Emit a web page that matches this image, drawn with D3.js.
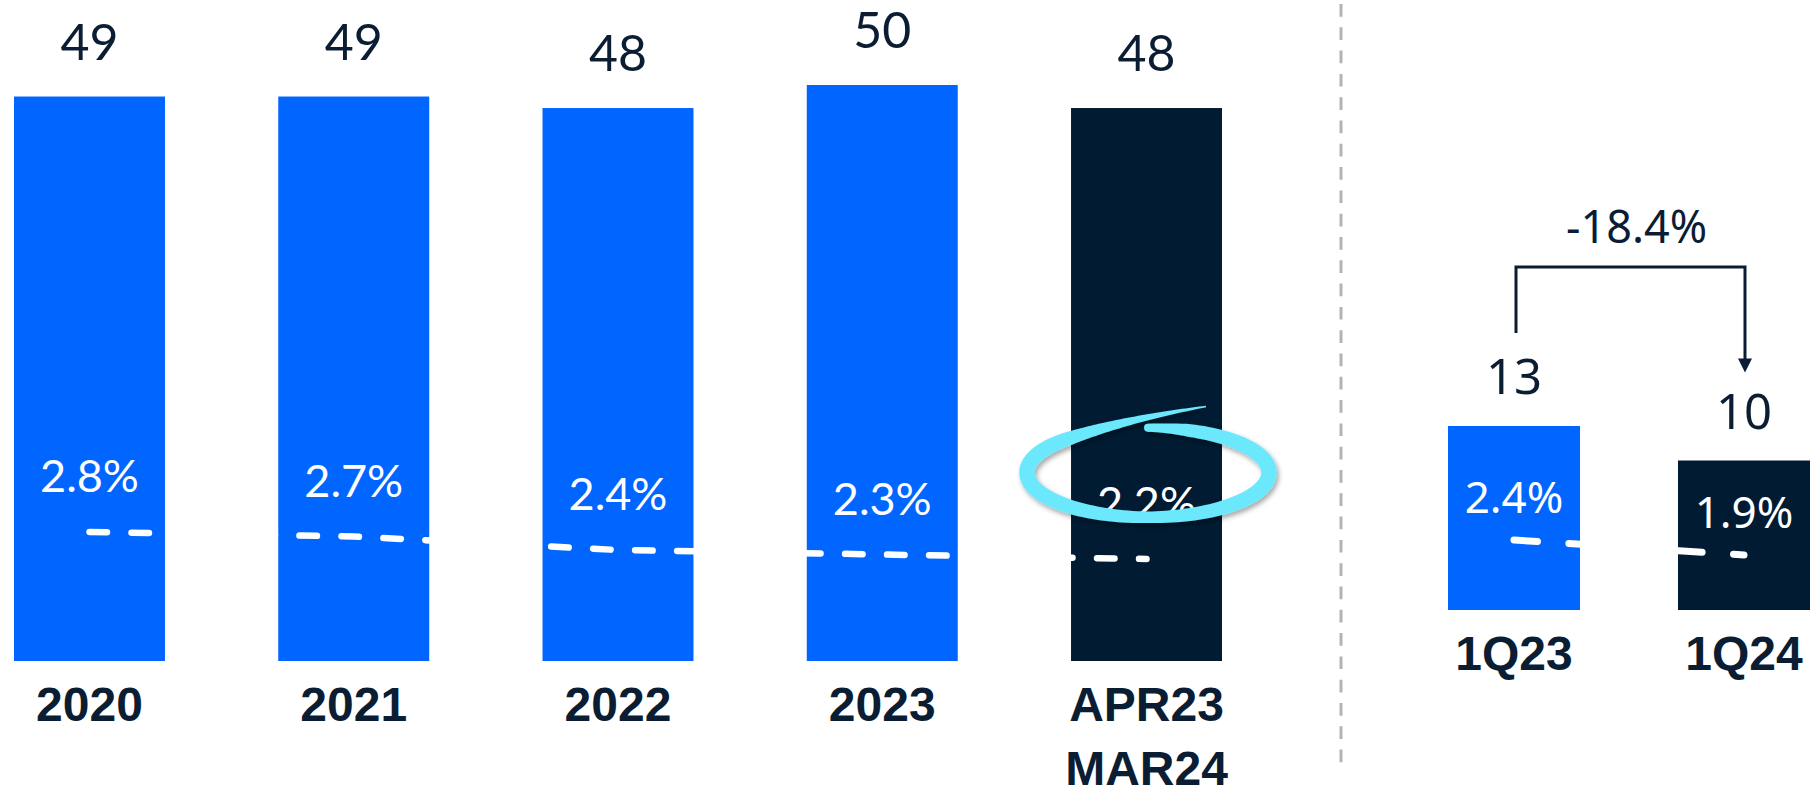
<!DOCTYPE html>
<html>
<head>
<meta charset="utf-8">
<script src="https://cdn.jsdelivr.net/npm/d3@7"></script>
<style>
  html, body { margin: 0; padding: 0; background: #ffffff; }
  svg { display: block; }
</style>
</head>
<body>
<svg id="chart" width="1812" height="796"></svg>
<script>
// Annual figures (left panel)
const periods = ["2020", "2021", "2022", "2023", "APR23\nMAR24"];
const periodValues = [49, 49, 48, 50, 48];
const periodShares = [2.8, 2.7, 2.4, 2.3, 2.2];

// Quarterly figures (right panel)
const quarters = ["1Q23", "1Q24"];
const quarterValues = [13, 10];
const quarterShares = [2.4, 1.9];
const quarterChange = "-18.4%";

const BLUE = "#0066ff";
const NAVY = "#001b32";
const INK = "#0b1d33";
const HALO = "#6ce8fc";

const svg = d3.select("#chart");
const pct = v => d3.format(".1f")(v) + "%";

const defs = svg.append("defs");
const shadow = defs.append("filter").attr("id", "halo-shadow")
  .attr("x", "-20%").attr("y", "-40%").attr("width", "140%").attr("height", "180%");
shadow.append("feDropShadow").attr("dx", 2).attr("dy", 3).attr("stdDeviation", 2.5)
  .attr("flood-color", "#000").attr("flood-opacity", 0.35);

// ---------- scales ----------
const xL = d3.scaleBand().domain(periods).range([14, 1222]).paddingInner(0.4287).paddingOuter(0);
const yL = d3.scaleLinear().domain([0, 50]).range([661, 85]);
const sL = d3.scaleLinear().domain([0, 4]).range([658, 478]);

const xR = d3.scaleBand().domain(quarters).range([1448, 1810]).paddingInner(0.426).paddingOuter(0);
const yR = d3.scaleLinear().domain([-3, 13]).range([610, 426]);
const sR = d3.scaleLinear().domain([0, 4]).range([612, 492]);

// ---------- generic panel ----------
function drawPanel(cfg) {
  const { cats, vals, shares, x, y, s, valueFont, valueSize, valueGap,
          shareFont, shareSize, shareGap, catY, lineGap, dash, dashWidth } = cfg;
  const g = svg.append("g");
  const bw = x.bandwidth();
  const base = y.range()[0];
  const last = cats.length - 1;
  const rows = cats.map((c, i) => ({ c, v: vals[i], s: shares[i], i }));

  g.selectAll("rect.bar").data(rows).join("rect")
    .attr("class", "bar")
    .attr("x", d => x(d.c))
    .attr("y", d => y(d.v))
    .attr("width", bw)
    .attr("height", d => base - y(d.v))
    .attr("fill", d => d.i === last ? NAVY : BLUE);

  g.selectAll("text.value").data(rows).join("text")
    .attr("class", "value")
    .attr("x", d => x(d.c) + bw / 2)
    .attr("y", d => y(d.v) - valueGap)
    .attr("text-anchor", "middle")
    .attr("font-family", valueFont)
    .attr("font-size", valueSize)
    .attr("fill", INK)
    .text(d => d3.format(".0f")(d.v));

  g.selectAll("text.share").data(rows).join("text")
    .attr("class", "share")
    .attr("x", d => x(d.c) + bw / 2)
    .attr("y", d => s(d.s) - shareGap)
    .attr("text-anchor", "middle")
    .attr("font-family", shareFont)
    .attr("font-size", shareSize)
    .attr("fill", "#ffffff")
    .text(d => pct(d.s));

  const line = d3.line().x(d => x(d.c) + bw / 2).y(d => s(d.s));
  g.append("path")
    .datum(rows)
    .attr("d", line)
    .attr("fill", "none")
    .attr("stroke", "#ffffff")
    .attr("stroke-width", dashWidth)
    .attr("stroke-linecap", "round")
    .attr("stroke-dasharray", dash);

  const cat = g.selectAll("text.cat").data(rows).join("text")
    .attr("class", "cat")
    .attr("x", d => x(d.c) + bw / 2)
    .attr("y", catY)
    .attr("text-anchor", "middle")
    .attr("font-family", "'Liberation Sans', Arial, sans-serif")
    .attr("font-weight", "bold")
    .attr("font-size", 48)
    .attr("fill", INK);
  cat.each(function(d) {
    const parts = d.c.split("\n");
    d3.select(this).selectAll("tspan").data(parts).join("tspan")
      .attr("x", x(d.c) + bw / 2)
      .attr("dy", (p, k) => k === 0 ? 0 : lineGap)
      .text(p => p);
  });
  return g;
}

drawPanel({
  cats: periods, vals: periodValues, shares: periodShares,
  x: xL, y: yL, s: sL,
  valueFont: "Lato, 'Noto Sans', sans-serif", valueSize: 50, valueGap: 37,
  shareFont: "Lato, 'Noto Sans', sans-serif", shareSize: 45, shareGap: 40,
  catY: 721, lineGap: 64, dash: "17.5 24.5", dashWidth: 6.5
});

drawPanel({
  cats: quarters, vals: quarterValues, shares: quarterShares,
  x: xR, y: yR, s: sR,
  valueFont: "'Noto Sans', sans-serif", valueSize: 49, valueGap: 32,
  shareFont: "'Noto Sans', sans-serif", shareSize: 44, shareGap: 27,
  catY: 670, lineGap: 64, dash: "23.5 31.5", dashWidth: 7
});

// ---------- divider between panels ----------
svg.append("line")
  .attr("x1", 1341).attr("x2", 1341)
  .attr("y1", 4).attr("y2", 766)
  .attr("stroke", "#b3b3b3")
  .attr("stroke-width", 3)
  .attr("stroke-dasharray", "12.7 10.6");

// ---------- change bracket between quarters ----------
{
  const bw = xR.bandwidth();
  const xa = xR(quarters[0]) + bw / 2 + 2;
  const xb = xR(quarters[1]) + bw / 2 + 1;
  const topY = yR(quarterValues[0]) - 159;
  const startY = yR(quarterValues[0]) - 93;
  const tipY = yR(quarterValues[1]) - 88;
  const head = 14;
  const g = svg.append("g");
  g.append("path")
    .attr("d", `M${xa},${startY}V${topY}H${xb}V${tipY - head + 1}`)
    .attr("fill", "none")
    .attr("stroke", INK)
    .attr("stroke-width", 3);
  g.append("path")
    .attr("d", `M${xb - 7},${tipY - head}L${xb + 7},${tipY - head}L${xb},${tipY}Z`)
    .attr("fill", INK);
  g.append("text")
    .attr("x", (xa + xb) / 2 + 6)
    .attr("y", topY - 24)
    .attr("text-anchor", "middle")
    .attr("font-family", "'Noto Sans', sans-serif")
    .attr("font-size", 45)
    .attr("fill", INK)
    .text(quarterChange);
}

// ---------- hand-drawn highlight around the latest share ----------
{
  const key = periods[periods.length - 1];
  const cx = xL(key) + xL.bandwidth() / 2 + 1.5;
  const cy = sL(periodShares[periodShares.length - 1]) - 40 - 46.5;
  const rx = 121, ry = 44.75;
  const th0 = -Math.PI / 2, th1 = Math.PI + 0.8;
  const pts = [];
  const n = 140;
  for (let i = 0; i <= n; i++) {
    const t = th0 + (th1 - th0) * i / n;
    const w = 11.5 + 4 * Math.abs(Math.cos(t));
    const ramp = Math.min(1, (t - th0) / 0.35);
    pts.push({ x: cx + rx * Math.cos(t), y: cy + ry * Math.sin(t), w: 8 + (w - 8) * ramp });
  }
  const p0 = pts[pts.length - 1];
  const tan = { x: -rx * Math.sin(th1), y: ry * Math.cos(th1) };
  const p1 = { x: p0.x + 0.645 * tan.x, y: p0.y + 0.645 * tan.y };
  const p2 = { x: cx + 58, y: cy - 66 };
  const m = 50;
  for (let i = 1; i <= m; i++) {
    const t = i / m, u = 1 - t;
    pts.push({
      x: u * u * p0.x + 2 * u * t * p1.x + t * t * p2.x,
      y: u * u * p0.y + 2 * u * t * p1.y + t * t * p2.y,
      w: p0.w * (1 - t) + 1.5 * t
    });
  }
  const left = [], right = [];
  pts.forEach((p, i) => {
    const a = pts[Math.max(0, i - 1)], b = pts[Math.min(pts.length - 1, i + 1)];
    const dx = b.x - a.x, dy = b.y - a.y, len = Math.hypot(dx, dy) || 1;
    const nx = -dy / len, ny = dx / len;
    left.push([p.x + nx * p.w / 2, p.y + ny * p.w / 2]);
    right.push([p.x - nx * p.w / 2, p.y - ny * p.w / 2]);
  });
  const outline = left.concat(right.reverse());
  const g = svg.append("g").attr("filter", "url(#halo-shadow)");
  g.append("path")
    .attr("d", d3.line().curve(d3.curveLinearClosed)(outline))
    .attr("fill", HALO);
  g.append("circle")
    .attr("cx", pts[0].x).attr("cy", pts[0].y).attr("r", pts[0].w / 2)
    .attr("fill", HALO);
}
</script>
</body>
</html>
